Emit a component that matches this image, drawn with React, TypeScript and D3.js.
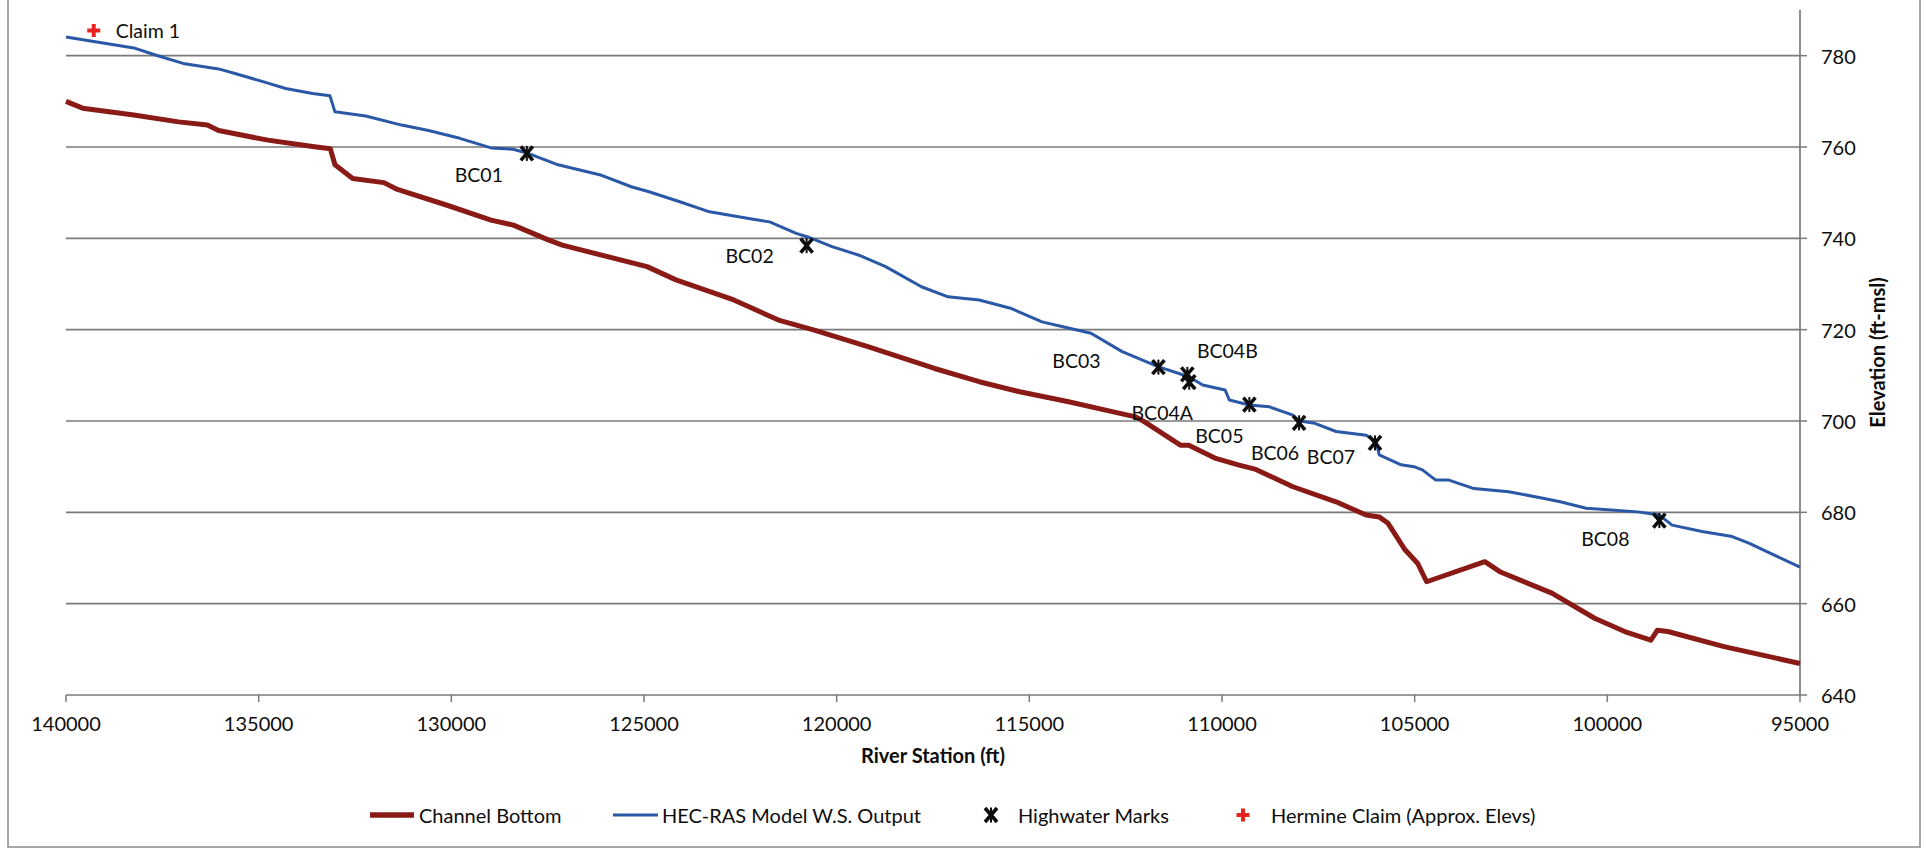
import React from 'react';
import * as d3 from 'd3';

// river station (ft) vs elevation (ft-msl)
const waterSurface: [number, number][] = [
  [140000, 784.1], [138240, 781.7], [137660, 780.1], [136960, 778.3], [136040, 777.1],
  [135570, 776.0], [134760, 774.0], [134300, 772.8], [133600, 771.7], [133150, 771.2],
  [133020, 767.7], [132220, 766.8], [131290, 764.8], [130590, 763.6], [129780, 761.9],
  [128970, 759.8], [128400, 759.5], [128040, 758.7], [127230, 756.1], [126100, 753.8],
  [125330, 751.3], [124870, 750.2], [124070, 748.0], [123300, 745.8], [122320, 744.4],
  [121740, 743.6], [121050, 741.1], [120750, 740.3], [120120, 738.2], [119420, 736.3],
  [118730, 733.8], [117800, 729.4], [117110, 727.2], [116300, 726.5], [115490, 724.7],
  [114670, 721.7], [114100, 720.6], [113400, 719.2], [112590, 715.2], [111660, 711.9],
  [110860, 709.7], [110500, 707.9], [109920, 706.8], [109810, 704.6], [109290, 703.5],
  [108770, 703.1], [108160, 701.3], [107990, 700.0], [107590, 699.5], [107040, 697.7],
  [106260, 696.9], [106000, 695.5], [105920, 692.6], [105350, 690.4], [105020, 690.0],
  [104800, 689.3], [104460, 687.1], [104130, 687.1], [103460, 685.2], [102560, 684.5],
  [101670, 683.1], [101220, 682.3], [100550, 680.9], [99210, 680.1], [98650, 679.4],
  [98320, 677.2], [97540, 675.8], [96760, 674.7], [96310, 673.2], [95860, 671.4],
  [95000, 668.0],
];

const channelBottom: [number, number][] = [
  [140000, 770.0], [139570, 768.5], [138240, 767.0], [137080, 765.5], [136330, 764.8],
  [136040, 763.6], [134760, 761.5], [133600, 760.1], [133140, 759.6], [133020, 756.1],
  [132560, 753.1], [131750, 752.2], [131400, 750.7], [130130, 747.3], [128970, 744.0],
  [128390, 742.9], [127470, 739.6], [127120, 738.5], [124920, 733.8], [124170, 730.9],
  [122670, 726.5], [121510, 722.1], [120580, 719.9], [119190, 716.3], [117460, 711.5],
  [116300, 708.6], [115250, 706.4], [113980, 704.2], [112820, 702.0], [112240, 700.9],
  [112010, 699.8], [111080, 694.7], [110860, 694.7], [110160, 691.8], [109580, 690.4],
  [109120, 689.4], [108160, 685.6], [107040, 682.3], [106260, 679.4], [105920, 679.0],
  [105690, 677.6], [105250, 671.8], [104920, 668.8], [104690, 664.8], [103180, 669.2],
  [102790, 667.0], [101440, 662.3], [100330, 656.8], [99550, 653.9], [98870, 652.0],
  [98700, 654.2], [98430, 653.9], [96970, 650.6], [95000, 646.9],
];

const markNames = ['BC01', 'BC02', 'BC03', 'BC04B', 'BC04A', 'BC05', 'BC06', 'BC07', 'BC08'];
const markStations = [128040, 120780, 111650, 110900, 110850, 109290, 108000, 106030, 98650];
const markElevs = [758.6, 738.4, 711.8, 710.2, 708.5, 703.6, 699.6, 695.2, 678.2];

const claimNames = ['Claim 1'];
const claimStations = [139280];
const claimElevs = [785.5];

const xTicks = [140000, 135000, 130000, 125000, 120000, 115000, 110000, 105000, 100000, 95000];
const yTicks = [640, 660, 680, 700, 720, 740, 760, 780];

// where each highwater label sits relative to its marker (px)
const labelOffset: Record<string, [number, number]> = {
  BC01: [-48, 21], BC02: [-57, 10], BC03: [-82, -7], BC04B: [40, -24], BC04A: [-27, 30],
  BC05: [-30, 31], BC06: [-24, 30], BC07: [-44, 14], BC08: [-54, 18],
};

const W = 1926;
const H = 851;
const left = 66;
const right = 1800;
const top = 10;
const bottom = 695;

const RED = '#8A1A15';
const BLUE = '#2A58A6';
const GRID = '#7a7a7a';
const INK = '#0d0d0d';
const FONT = 'Lato, "Open Sans", sans-serif';

// Excel "star" marker: a bold x with a short vertical stroke
const Star: React.FC<{ x: number; y: number }> = ({ x, y }) => (
  <g stroke={INK} fill="none">
    <path d={`M${x - 6},${y - 7}L${x + 6},${y + 7}M${x + 6},${y - 7}L${x - 6},${y + 7}`} strokeWidth={3.6} />
    <path d={`M${x},${y - 7.5}V${y + 7.5}`} strokeWidth={2} />
  </g>
);

const Cross: React.FC<{ x: number; y: number }> = ({ x, y }) => (
  <path d={`M${x - 6.5},${y}H${x + 6.5}M${x},${y - 6.5}V${y + 6.5}`} stroke="#e8231f" strokeWidth={4} />
);

const App: React.FC = () => {
  const x = d3.scaleLinear().domain([140000, 95000]).range([left, right]);
  const y = d3.scaleLinear().domain([640, 790]).range([bottom, top]);
  const line = d3.line<[number, number]>().x((d) => x(d[0])).y((d) => y(d[1]));

  return (
    <svg
      width={W}
      height={H}
      style={{ position: 'absolute', left: 0, top: 0, background: '#fff', fontFamily: FONT }}
    >
      <rect x={8} y={-2} width={1912} height={849} fill="#fff" stroke="#8a8a8a" strokeWidth={1.5} />

      {/* gridlines */}
      {yTicks.slice(1).map((t) => (
        <line key={t} x1={left} x2={right} y1={y(t)} y2={y(t)} stroke={GRID} strokeWidth={1.7} />
      ))}

      {/* x axis */}
      <line x1={left} x2={right} y1={bottom} y2={bottom} stroke={GRID} strokeWidth={1.7} />
      {xTicks.map((t) => (
        <g key={t}>
          <line x1={x(t)} x2={x(t)} y1={bottom} y2={bottom + 7} stroke={GRID} strokeWidth={1.5} />
          <text x={x(t)} y={723} textAnchor="middle" dominantBaseline="central" fontSize={20} fill={INK}>
            {t}
          </text>
        </g>
      ))}
      <text x={(left + right) / 2} y={755} textAnchor="middle" dominantBaseline="central" fontSize={20} fontWeight="bold" fill={INK}>
        River Station (ft)
      </text>

      {/* right y axis */}
      <line x1={right} x2={right} y1={top} y2={bottom} stroke={GRID} strokeWidth={1.7} />
      {yTicks.map((t) => (
        <g key={t}>
          <line x1={right} x2={right + 7} y1={y(t)} y2={y(t)} stroke={GRID} strokeWidth={1.5} />
          <text x={1821} y={y(t)} dominantBaseline="central" fontSize={20} fill={INK}>
            {t}
          </text>
        </g>
      ))}
      <text
        transform={`translate(1877,${(top + bottom) / 2}) rotate(-90)`}
        textAnchor="middle"
        dominantBaseline="central"
        fontSize={20}
        fontWeight="bold"
        fill={INK}
      >
        Elevation (ft-msl)
      </text>

      {/* series */}
      <path d={line(channelBottom) ?? ''} fill="none" stroke={RED} strokeWidth={5} strokeLinejoin="round" />
      <path d={line(waterSurface) ?? ''} fill="none" stroke={BLUE} strokeWidth={3} strokeLinejoin="round" />

      {markNames.map((n, i) => {
        const mx = x(markStations[i]);
        const my = y(markElevs[i]);
        const [dx, dy] = labelOffset[n];
        return (
          <g key={n}>
            <Star x={mx} y={my} />
            <text x={mx + dx} y={my + dy} textAnchor="middle" dominantBaseline="central" fontSize={19.5} fill={INK}>
              {n}
            </text>
          </g>
        );
      })}

      {claimNames.map((n, i) => {
        const cx = x(claimStations[i]);
        const cy = y(claimElevs[i]);
        return (
          <g key={n}>
            <Cross x={cx} y={cy} />
            <text x={cx + 22} y={cy} dominantBaseline="central" fontSize={19.5} fill={INK}>
              {n}
            </text>
          </g>
        );
      })}

      {/* legend */}
      <g fontSize={20} fill={INK}>
        <line x1={370} x2={414} y1={815} y2={815} stroke={RED} strokeWidth={5.5} />
        <text x={419} y={815} dominantBaseline="central">Channel Bottom</text>
        <line x1={613} x2={658} y1={815} y2={815} stroke={BLUE} strokeWidth={3.2} />
        <text x={662} y={815} dominantBaseline="central">HEC-RAS Model W.S. Output</text>
        <Star x={991} y={815} />
        <text x={1018} y={815} dominantBaseline="central">Highwater Marks</text>
        <Cross x={1243} y={815} />
        <text x={1271} y={815} dominantBaseline="central">Hermine Claim  (Approx. Elevs)</text>
      </g>
    </svg>
  );
};

export default App;
